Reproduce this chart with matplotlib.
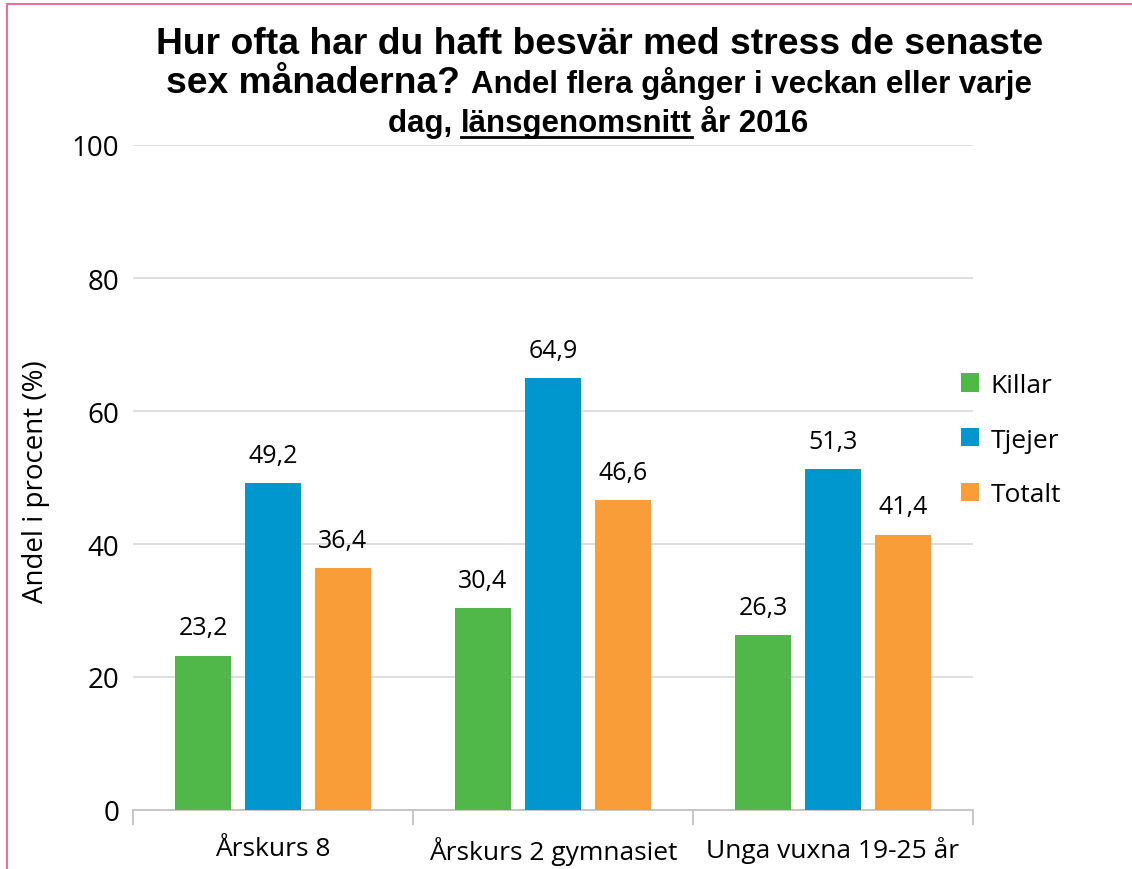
import matplotlib
matplotlib.use("Agg")
import matplotlib.pyplot as plt
import numpy as np
from matplotlib.patches import Rectangle
from matplotlib.lines import Line2D

categories = ["Årskurs 8", "Årskurs 2 gymnasiet", "Unga vuxna 19-25 år"]
series_names = ["Killar", "Tjejer", "Totalt"]
killar = [23.2, 30.4, 26.3]
tjejer = [49.2, 64.9, 51.3]
totalt = [36.4, 46.6, 41.4]
colors = ["#50B848", "#0096CE", "#F89D38"]
yticks = [0, 20, 40, 60, 80, 100]

W, H = 1132, 870
fig = plt.figure(figsize=(W / 100, H / 100), dpi=100)
body_font = ["Open Sans", "DejaVu Sans"]
title_font = ["Liberation Sans", "DejaVu Sans"]

# axes: x 133..973, y 146..811 pixels
ax = fig.add_axes([133 / W, 1 - 811 / H, (973 - 133) / W, (811 - 146) / H])
x = np.arange(len(categories))
offsets = [-0.25, 0, 0.25]
for vals, off, col, name in zip([killar, tjejer, totalt], offsets, colors, series_names):
    bars = ax.bar(x + off, vals, width=0.2, color=col, label=name, zorder=3)
    for b, v in zip(bars, vals):
        ax.annotate(f"{v:.1f}".replace(".", ","), (b.get_x() + b.get_width() / 2, v),
                    xytext=(0, 11), textcoords="offset points", ha="center", va="bottom",
                    fontsize=18, family=body_font, color="#000000")

ax.set_xlim(-0.5, 2.5)
ax.set_ylim(0, 100)
ax.set_yticks(yticks)
ax.set_yticklabels([str(t) for t in yticks], fontsize=20, family=body_font)
ax.tick_params(axis="y", length=0, pad=10)
ax.yaxis.grid(True, color="#D9D9D9", linewidth=1.2, zorder=0)
ax.set_axisbelow(True)
for s in ["top", "right", "left"]:
    ax.spines[s].set_visible(False)
ax.spines["bottom"].set_color("#BFBFBF")
ax.spines["bottom"].set_linewidth(1.2)
ax.set_xticks([-0.5, 0.5, 1.5, 2.5])
ax.set_xticklabels([])
ax.tick_params(axis="x", length=11, color="#BFBFBF", width=1.2)
ax.set_xticks(x, minor=True)
ax.set_xticklabels(categories, minor=True, fontsize=19, family=body_font)
ax.tick_params(axis="x", which="minor", length=0, pad=19)

fig.text(36 / W, 1 - 482 / H, "Andel i procent (%)", rotation=90, ha="center", va="center",
         fontsize=20, family=body_font)

leg = ax.legend(loc="upper left", bbox_to_anchor=(937 / W, 1 - 350 / H),
                bbox_transform=fig.transFigure, frameon=False,
                prop={"family": body_font, "size": 19}, handlelength=0.68, handleheight=0.68,
                labelspacing=1.13, handletextpad=0.45)

# pink border (top & left visible)
fig.patches.append(Rectangle((7 / W, -0.1), 1.2, 1 - 5 / H + 0.1, transform=fig.transFigure,
                             fill=False, edgecolor="#E8709B", linewidth=1.5))

# title built from runs
fig.canvas.draw()
renderer = fig.canvas.get_renderer()

def place_line(runs, cx, y_base):
    texts = []
    for s, size, ul in runs:
        t = fig.text(0, 0, s, fontsize=size, fontweight="bold", family=title_font,
                     ha="left", va="baseline", transform=None)
        texts.append((t, ul))
    widths = [t.get_window_extent(renderer).width for t, _ in texts]
    total = sum(widths)
    xpos = cx - total / 2
    ybase = H - y_base
    for (t, ul), w in zip(texts, widths):
        t.set_position((xpos, ybase))
        if ul:
            fig.add_artist(Line2D([xpos, xpos + w], [ybase - 6, ybase - 6], transform=None,
                                  color="black", linewidth=2))
        xpos += w

place_line([("Hur ofta har du haft besvär med stress de senaste", 26.8, False)], 600, 54)
place_line([("sex månaderna? ", 26.8, False), ("Andel flera gånger i veckan eller varje", 22.5, False)], 599, 93)
place_line([("dag, ", 22.5, False), ("länsgenomsnitt", 22.5, True), (" år 2016", 22.5, False)], 598, 132)

fig.savefig("out.png", dpi=100)
